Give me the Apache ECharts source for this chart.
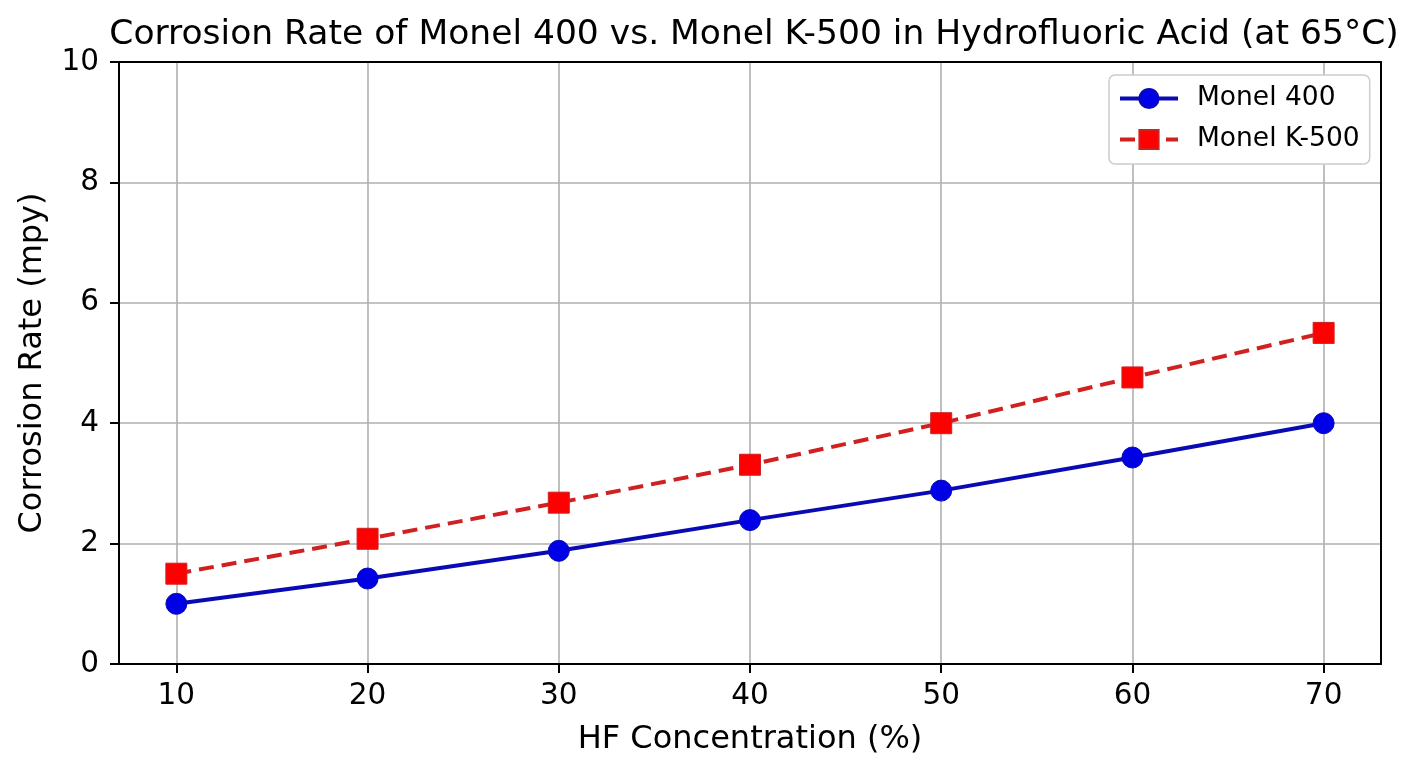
<!DOCTYPE html>
<html>
<head>
<meta charset="utf-8">
<script src="https://cdn.jsdelivr.net/npm/echarts@6/dist/echarts.min.js"></script>
<style>html,body{margin:0;padding:0;background:#fff}#c{width:1408px;height:768px}</style>
</head>
<body>
<div id="c"></div>
<script>
var concentrations = [10, 20, 30, 40, 50, 60, 70];
var monel400 = [1.0, 1.42, 1.88, 2.39, 2.88, 3.43, 4.0];
var monelK500 = [1.5, 2.08, 2.68, 3.31, 4.0, 4.76, 5.5];
var xTicks = [10, 20, 30, 40, 50, 60, 70];
var FONT = 'DejaVu Sans';

function pairs(xs, ys) { return xs.map(function (x, i) { return [x, ys[i]]; }); }

var frameAxis = {
  show: true,
  axisLine: { show: true, onZero: false, lineStyle: { color: '#000', width: 2 } },
  axisTick: { show: false }, axisLabel: { show: false }, splitLine: { show: false },
  z: 5
};

var chart = echarts.init(document.getElementById('c'));
chart.setOption({
  animation: false,
  backgroundColor: '#ffffff',
  title: {
    text: 'Corrosion Rate of Monel 400 vs. Monel K-500 in Hydrofluoric Acid (at 65°C)',
    left: 749, top: 13, textAlign: 'center',
    textStyle: { fontFamily: FONT, fontSize: 34.5, fontWeight: 'normal', color: '#000' }
  },
  legend: {
    left: 1109, top: 75, orient: 'vertical',
    backgroundColor: '#fff', borderColor: '#cccccc', borderWidth: 1.5, borderRadius: 6,
    padding: [10, 10, 11, 9], itemGap: 14, itemWidth: 58, itemHeight: 24,
    textStyle: { fontFamily: FONT, fontSize: 26.5, color: '#000', padding: [0, 0, 0, 14] },
    data: [
      { name: 'Monel 400', lineStyle: { width: 4 } },
      { name: 'Monel K-500', lineStyle: { width: 4 } }
    ]
  },
  grid: { left: 119, right: 27, top: 62, bottom: 104, show: false },
  xAxis: [{
    type: 'value', min: 7, max: 73, position: 'bottom',
    name: 'HF Concentration (%)', nameLocation: 'middle', nameGap: 60,
    nameTextStyle: { fontFamily: FONT, fontSize: 32, color: '#000' },
    axisLine: { show: true, onZero: false, lineStyle: { color: '#000', width: 2 } },
    axisTick: { show: true, length: 9, customValues: xTicks, lineStyle: { color: '#000', width: 2 } },
    axisLabel: { customValues: xTicks, fontFamily: FONT, fontSize: 29.5, color: '#000', margin: 17 },
    splitLine: { show: true, lineStyle: { color: '#b0b0b0', width: 1.6 } }
  }, Object.assign({ type: 'value', min: 7, max: 73, position: 'top' }, frameAxis)],
  yAxis: [{
    type: 'value', min: 0, max: 10, interval: 2, position: 'left',
    name: 'Corrosion Rate (mpy)', nameLocation: 'middle', nameGap: 70,
    nameTextStyle: { fontFamily: FONT, fontSize: 32, color: '#000' },
    axisLine: { show: true, onZero: false, lineStyle: { color: '#000', width: 2 } },
    axisTick: { show: true, length: 9, lineStyle: { color: '#000', width: 2 } },
    axisLabel: { fontFamily: FONT, fontSize: 29.5, color: '#000', margin: 20 },
    splitLine: { show: true, lineStyle: { color: '#b0b0b0', width: 1.6 } }
  }, Object.assign({ type: 'value', min: 0, max: 10, position: 'right' }, frameAxis)],
  series: [
    {
      name: 'Monel 400', type: 'line', data: pairs(concentrations, monel400),
      symbol: 'circle', symbolSize: 21,
      lineStyle: { color: '#0a0ab4', width: 4 },
      itemStyle: { color: '#0000e6', borderColor: '#0a0ab4', borderWidth: 1 },
      z: 3
    },
    {
      name: 'Monel K-500', type: 'line', data: pairs(concentrations, monelK500),
      symbol: 'rect', symbolSize: 21,
      lineStyle: { color: '#d02020', width: 4, type: [15, 8] },
      itemStyle: { color: '#ff0000', borderColor: '#d02020', borderWidth: 1 },
      z: 3
    }
  ]
});
</script>
</body>
</html>
